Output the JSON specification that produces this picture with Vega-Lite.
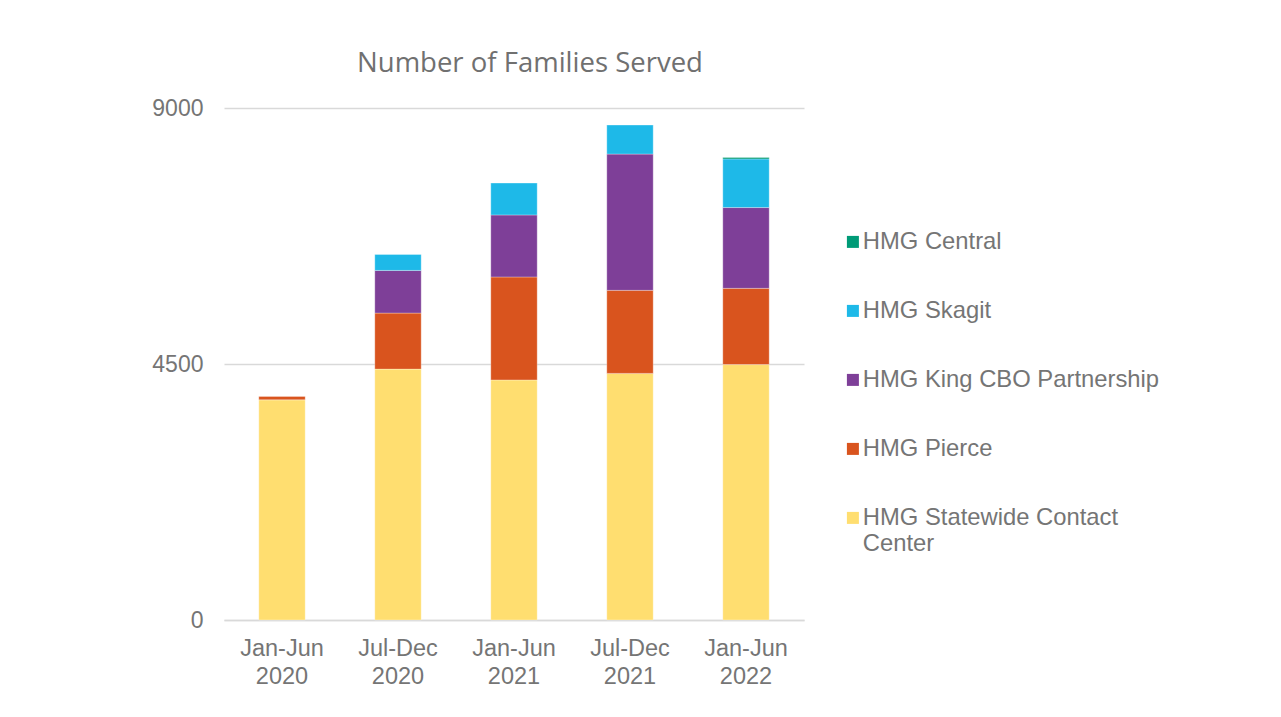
{
  "$schema": "https://vega.github.io/schema/vega-lite/v6.json",
  "width": 580,
  "height": 512,
  "autosize": {"type": "none"},
  "padding": {"left": 224, "top": 108, "right": 477, "bottom": 97},
  "background": "white",
  "title": {
    "text": "Number of Families Served",
    "font": "Open Sans",
    "fontSize": 27.5,
    "fontWeight": "normal",
    "color": "#707070",
    "anchor": "middle",
    "dx": 16,
    "offset": 20
  },
  "data": {
    "values": [
      {"period": "Jan-Jun 2020", "group": "HMG Statewide Contact Center", "families": 3870, "rank": 1},
      {"period": "Jan-Jun 2020", "group": "HMG Pierce", "families": 60, "rank": 2},
      {"period": "Jul-Dec 2020", "group": "HMG Statewide Contact Center", "families": 4410, "rank": 1},
      {"period": "Jul-Dec 2020", "group": "HMG Pierce", "families": 985, "rank": 2},
      {"period": "Jul-Dec 2020", "group": "HMG King CBO Partnership", "families": 750, "rank": 3},
      {"period": "Jul-Dec 2020", "group": "HMG Skagit", "families": 280, "rank": 4},
      {"period": "Jan-Jun 2021", "group": "HMG Statewide Contact Center", "families": 4220, "rank": 1},
      {"period": "Jan-Jun 2021", "group": "HMG Pierce", "families": 1810, "rank": 2},
      {"period": "Jan-Jun 2021", "group": "HMG King CBO Partnership", "families": 1090, "rank": 3},
      {"period": "Jan-Jun 2021", "group": "HMG Skagit", "families": 560, "rank": 4},
      {"period": "Jul-Dec 2021", "group": "HMG Statewide Contact Center", "families": 4335, "rank": 1},
      {"period": "Jul-Dec 2021", "group": "HMG Pierce", "families": 1460, "rank": 2},
      {"period": "Jul-Dec 2021", "group": "HMG King CBO Partnership", "families": 2395, "rank": 3},
      {"period": "Jul-Dec 2021", "group": "HMG Skagit", "families": 510, "rank": 4},
      {"period": "Jan-Jun 2022", "group": "HMG Statewide Contact Center", "families": 4490, "rank": 1},
      {"period": "Jan-Jun 2022", "group": "HMG Pierce", "families": 1340, "rank": 2},
      {"period": "Jan-Jun 2022", "group": "HMG King CBO Partnership", "families": 1420, "rank": 3},
      {"period": "Jan-Jun 2022", "group": "HMG Skagit", "families": 855, "rank": 4},
      {"period": "Jan-Jun 2022", "group": "HMG Central", "families": 25, "rank": 5}
    ]
  },
  "mark": {"type": "bar", "stroke": "white", "strokeWidth": 0.6, "strokeOpacity": 0.5},
  "encoding": {
    "x": {
      "field": "period",
      "type": "nominal",
      "sort": ["Jan-Jun 2020", "Jul-Dec 2020", "Jan-Jun 2021", "Jul-Dec 2021", "Jan-Jun 2022"],
      "scale": {"paddingInner": 0.6, "paddingOuter": 0.3},
      "axis": {
        "title": null,
        "labelAngle": 0,
        "labelExpr": "split(datum.label, ' ')",
        "labelFont": "Liberation Sans",
        "labelFontSize": 23.5,
        "labelColor": "#757575",
        "labelLineHeight": 28,
        "labelPadding": 16,
        "ticks": false,
        "domain": true,
        "domainColor": "#d9d9d9",
        "domainWidth": 1.5
      }
    },
    "y": {
      "field": "families",
      "type": "quantitative",
      "stack": "zero",
      "scale": {"domain": [0, 9000]},
      "axis": {
        "title": null,
        "values": [0, 4500, 9000],
        "format": "d",
        "labelFont": "Liberation Sans",
        "labelFontSize": 23,
        "labelColor": "#757575",
        "labelPadding": 21,
        "ticks": false,
        "domain": false,
        "gridColor": "#d9d9d9",
        "gridWidth": 1.5
      }
    },
    "color": {
      "field": "group",
      "type": "nominal",
      "scale": {
        "domain": ["HMG Central", "HMG Skagit", "HMG King CBO Partnership", "HMG Pierce", "HMG Statewide Contact Center"],
        "range": ["#009B77", "#1EB9E8", "#7E3F98", "#D9541E", "#FFDE70"]
      },
      "legend": {
        "title": null,
        "orient": "none",
        "legendX": 617,
        "legendY": 122,
        "padding": 0,
        "symbolType": "square",
        "symbolSize": 144,
        "symbolStrokeWidth": 0,
        "labelFont": "Liberation Sans",
        "labelFontSize": 23.8,
        "labelColor": "#757575",
        "labelOffset": -2,
        "labelLimit": 400,
        "labelBaseline": "middle",
        "labelLineHeight": 27,
        "rowPadding": 44,
        "labelExpr": "datum.label == 'HMG Statewide Contact Center' ? ['HMG Statewide Contact', 'Center'] : datum.label"
      }
    },
    "order": {"field": "rank", "type": "quantitative", "sort": "ascending"}
  },
  "config": {"view": {"stroke": null}}
}
